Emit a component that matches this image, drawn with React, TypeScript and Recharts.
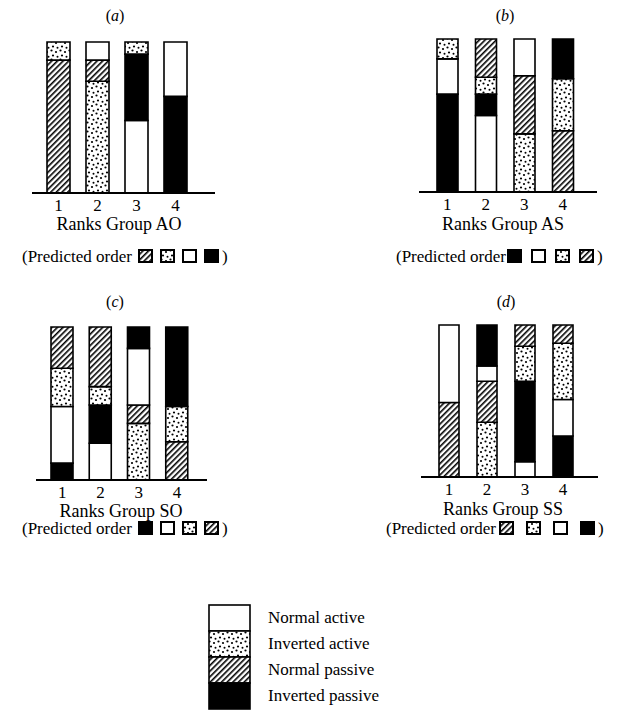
import { BarChart, Bar, XAxis, YAxis, Cell } from "recharts";

type Kind = "NA" | "IA" | "NP" | "IP";

const RANKS = ["1", "2", "3", "4"];

// segments of each bar, listed from the bottom up, as shares of the bar
const AO_KINDS: Kind[][] = [["NP", "IA"], ["IA", "NP", "NA"], ["NA", "IP", "IA"], ["IP", "NA"]];
const AO_SHARES = [[0.88, 0.12], [0.74, 0.14, 0.12], [0.48, 0.44, 0.08], [0.64, 0.36]];

const AS_KINDS: Kind[][] = [["IP", "NA", "IA"], ["NA", "IP", "IA", "NP"], ["IA", "NP", "NA"], ["NP", "IA", "IP"]];
const AS_SHARES = [[0.64, 0.23, 0.13], [0.5, 0.14, 0.11, 0.25], [0.38, 0.38, 0.24], [0.4, 0.34, 0.26]];

const SO_KINDS: Kind[][] = [["IP", "NA", "IA", "NP"], ["NA", "IP", "IA", "NP"], ["IA", "NP", "NA", "IP"], ["NP", "IA", "IP"]];
const SO_SHARES = [[0.11, 0.37, 0.25, 0.27], [0.24, 0.25, 0.12, 0.39], [0.37, 0.12, 0.37, 0.14], [0.25, 0.23, 0.52]];

const SS_KINDS: Kind[][] = [["NP", "NA"], ["IA", "NP", "NA", "IP"], ["NA", "IP", "IA", "NP"], ["IP", "NA", "IA", "NP"]];
const SS_SHARES = [[0.49, 0.51], [0.36, 0.27, 0.1, 0.27], [0.1, 0.53, 0.23, 0.14], [0.27, 0.24, 0.37, 0.12]];

const PREDICTED_AO: Kind[] = ["NP", "IA", "NA", "IP"];
const PREDICTED_AS: Kind[] = ["IP", "NA", "IA", "NP"];
const PREDICTED_SO: Kind[] = ["IP", "NA", "IA", "NP"];
const PREDICTED_SS: Kind[] = ["NP", "IA", "NA", "IP"];

const LEGEND_KINDS: Kind[] = ["NA", "IA", "NP", "IP"];
const LEGEND_LABELS = ["Normal active", "Inverted active", "Normal passive", "Inverted passive"];

const FILLS: Record<Kind, string> = {
  NA: "#ffffff",
  IA: "url(#dots)",
  NP: "url(#hatch)",
  IP: "#000000",
};

const SERIF = "'Liberation Serif', 'Times New Roman', serif";

type Geo = {
  x0: number;
  x1: number;
  top: number;
  base: number;
  padL: number;
  padR: number;
  barSize: number;
  titleX: number;
  titleY: number;
  labelX: number;
  labelY: number;
  predX: number;
  predY: number;
  predGap: number;
  swatchGap: number;
};

function buildRows(kinds: Kind[][], shares: number[][]) {
  return RANKS.map((rank, i) => {
    const row: Record<string, string | number> = { rank };
    kinds[i].forEach((k, j) => {
      row[`s${j}`] = shares[i][j];
      row[`k${j}`] = k;
    });
    return row;
  });
}

function Patterns() {
  return (
    <svg width={0} height={0} style={{ position: "absolute" }}>
      <defs>
        <pattern id="dots" width={9} height={9} patternUnits="userSpaceOnUse">
          <rect width={9} height={9} fill="#fff" />
          <circle cx={1.5} cy={1.5} r={1.1} fill="#000" />
          <circle cx={6} cy={3} r={1.1} fill="#000" />
          <circle cx={3} cy={6.5} r={1.1} fill="#000" />
          <circle cx={7.5} cy={7.8} r={1} fill="#000" />
        </pattern>
        <pattern
          id="hatch"
          width={4}
          height={4}
          patternUnits="userSpaceOnUse"
          patternTransform="rotate(45)"
        >
          <rect width={4} height={4} fill="#fff" />
          <rect width={1.6} height={4} fill="#000" />
        </pattern>
      </defs>
    </svg>
  );
}

function Swatch({ kind, gap }: { kind: Kind; gap: number }) {
  return (
    <svg width={15} height={14} style={{ verticalAlign: "-1px", marginLeft: gap }}>
      <rect x={1} y={1} width={13} height={12} fill={FILLS[kind]} stroke="#000" strokeWidth={2} />
    </svg>
  );
}

function Panel({
  letter,
  group,
  kinds,
  shares,
  predicted,
  geo,
}: {
  letter: string;
  group: string;
  kinds: Kind[][];
  shares: number[][];
  predicted: Kind[];
  geo: Geo;
}) {
  const rows = buildRows(kinds, shares);
  const width = geo.x1 - geo.x0;
  const height = geo.base - geo.top + 2 + 30;
  return (
    <>
      <div
        style={{
          position: "absolute",
          left: geo.titleX - 20,
          width: 40,
          top: geo.titleY - 8,
          textAlign: "center",
          fontFamily: SERIF,
          fontSize: 16,
          lineHeight: "16px",
        }}
      >
        (<i>{letter}</i>)
      </div>
      <div style={{ position: "absolute", left: geo.x0, top: geo.top - 2 }}>
        <BarChart
          width={width}
          height={height}
          data={rows}
          margin={{ top: 2, right: 0, bottom: 0, left: 0 }}
          barGap={0}
        >
          <XAxis
            dataKey="rank"
            height={30}
            padding={{ left: geo.padL, right: geo.padR }}
            tickLine={false}
            tickSize={4}
            axisLine={{ stroke: "#000", strokeWidth: 2 }}
            tick={{ fill: "#000", fontSize: 17, fontFamily: SERIF }}
          />
          <YAxis hide domain={[0, 1]} />
          {[0, 1, 2, 3].map((j) => (
            <Bar
              key={j}
              dataKey={`s${j}`}
              stackId="a"
              barSize={geo.barSize}
              stroke="#000"
              strokeWidth={1.6}
              isAnimationActive={false}
            >
              {rows.map((r, i) => (
                <Cell key={i} fill={r[`k${j}`] ? FILLS[r[`k${j}`] as Kind] : "none"} />
              ))}
            </Bar>
          ))}
        </BarChart>
      </div>
      <div
        style={{
          position: "absolute",
          left: geo.labelX - 90,
          width: 180,
          top: geo.labelY - 9,
          textAlign: "center",
          fontFamily: SERIF,
          fontSize: 18,
          lineHeight: "18px",
        }}
      >
        Ranks Group {group}
      </div>
      <div
        style={{
          position: "absolute",
          left: geo.predX,
          top: geo.predY - 9,
          whiteSpace: "nowrap",
          fontFamily: SERIF,
          fontSize: 17,
          lineHeight: "18px",
        }}
      >
        (Predicted order
        <span style={{ marginLeft: geo.predGap - geo.swatchGap }} />
        {predicted.map((k, i) => (
          <Swatch key={i} kind={k} gap={geo.swatchGap} />
        ))}
        <span style={{ marginLeft: 3 }}>)</span>
      </div>
    </>
  );
}

const GEO_A: Geo = {
  x0: 32, x1: 215, top: 42, base: 193, padL: 7, padR: 20, barSize: 23,
  titleX: 115, titleY: 16, labelX: 119, labelY: 224, predX: 22, predY: 257, predGap: 6, swatchGap: 7,
};
const GEO_B: Geo = {
  x0: 419, x1: 597, top: 39, base: 192, padL: 9, padR: 15, barSize: 21,
  titleX: 505, titleY: 16, labelX: 503, labelY: 224, predX: 396, predY: 257, predGap: 1, swatchGap: 9,
};
const GEO_C: Geo = {
  x0: 36, x1: 207, top: 327, base: 480, padL: 7, padR: 11, barSize: 22,
  titleX: 115, titleY: 302, labelX: 121, labelY: 511, predX: 22, predY: 529, predGap: 6, swatchGap: 7,
};
const GEO_D: Geo = {
  x0: 421, x1: 598, top: 325, base: 477, padL: 9, padR: 16, barSize: 20,
  titleX: 506, titleY: 302, labelX: 503, labelY: 509, predX: 386, predY: 529, predGap: 3, swatchGap: 12,
};

function LegendBlock() {
  const left = 209;
  const top = 605;
  const h = 26;
  return (
    <>
      <svg
        width={44}
        height={h * 4 + 4}
        style={{ position: "absolute", left: left - 1, top: top - 1 }}
      >
        {LEGEND_KINDS.map((k, i) => (
          <rect
            key={k}
            x={1}
            y={1 + i * h}
            width={41}
            height={h}
            fill={FILLS[k]}
            stroke="#000"
            strokeWidth={1.6}
          />
        ))}
      </svg>
      {LEGEND_LABELS.map((label, i) => (
        <div
          key={label}
          style={{
            position: "absolute",
            left: 268,
            top: top + i * h + 4,
            fontFamily: SERIF,
            fontSize: 17,
            lineHeight: "18px",
            whiteSpace: "nowrap",
          }}
        >
          {label}
        </div>
      ))}
    </>
  );
}

export default function App() {
  return (
    <div
      style={{
        position: "absolute",
        left: 0,
        top: 0,
        width: 644,
        height: 717,
        background: "#fff",
        color: "#000",
        overflow: "hidden",
      }}
    >
      <Patterns />
      <Panel letter="a" group="AO" kinds={AO_KINDS} shares={AO_SHARES} predicted={PREDICTED_AO} geo={GEO_A} />
      <Panel letter="b" group="AS" kinds={AS_KINDS} shares={AS_SHARES} predicted={PREDICTED_AS} geo={GEO_B} />
      <Panel letter="c" group="SO" kinds={SO_KINDS} shares={SO_SHARES} predicted={PREDICTED_SO} geo={GEO_C} />
      <Panel letter="d" group="SS" kinds={SS_KINDS} shares={SS_SHARES} predicted={PREDICTED_SS} geo={GEO_D} />
      <LegendBlock />
    </div>
  );
}
